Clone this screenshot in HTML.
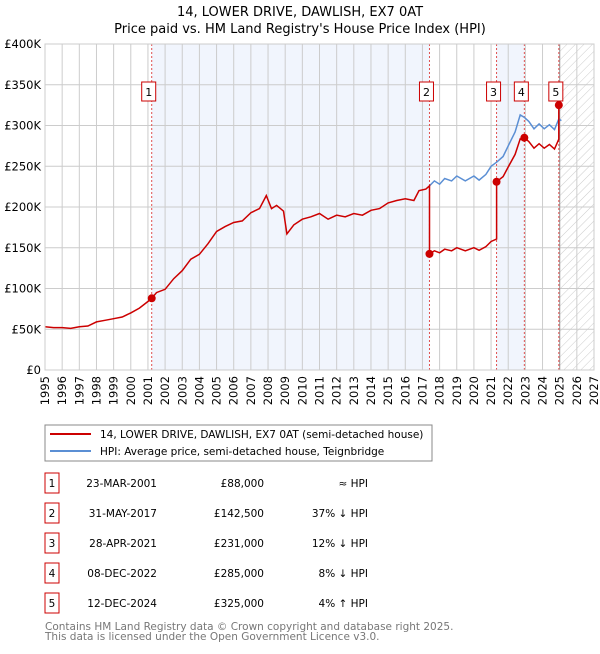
<!DOCTYPE html>
<html><head><meta charset="utf-8"><style>
body{margin:0;background:#fff;font-family:"DejaVu Sans","Liberation Sans",sans-serif;}
svg text{font-family:"DejaVu Sans","Liberation Sans",sans-serif;}
</style></head><body>
<svg id="c" width="600" height="650" viewBox="0 0 600 650">
<defs><pattern id="hatch" width="6" height="6" patternUnits="userSpaceOnUse" patternTransform="rotate(45)"><line x1="0" y1="0" x2="0" y2="6" stroke="#ccc" stroke-width="1"/></pattern></defs>
<text x="300" y="16" text-anchor="middle" font-size="13">14, LOWER DRIVE, DAWLISH, EX7 0AT</text>
<text x="300" y="33" text-anchor="middle" font-size="13">Price paid vs. HM Land Registry's House Price Index (HPI)</text>
<g id="plot"></g>
<rect x="45" y="425" width="387" height="36" fill="#fff" stroke="#888"/>
<line x1="50" y1="434" x2="91" y2="434" stroke="#cc0000" stroke-width="2"/>
<text x="100" y="438" font-size="10.5">14, LOWER DRIVE, DAWLISH, EX7 0AT (semi-detached house)</text>
<line x1="50" y1="451" x2="91" y2="451" stroke="#5b8fd4" stroke-width="2"/>
<text x="100" y="455" font-size="10.5">HPI: Average price, semi-detached house, Teignbridge</text>
<g id="table"></g>
<text x="45" y="630" font-size="10.5" fill="#777">Contains HM Land Registry data © Crown copyright and database right 2025.</text>
<text x="45" y="640" font-size="10.5" fill="#777">This data is licensed under the Open Government Licence v3.0.</text>
</svg>
<script>
const hpiYears=[1995,1995.5,1996,1996.5,1997,1997.5,1998,1998.5,1999,1999.5,2000,2000.5,2001,2001.22,2001.5,2002,2002.5,2003,2003.5,2004,2004.5,2005,2005.5,2006,2006.5,2007,2007.5,2007.9,2008.2,2008.5,2008.9,2009.1,2009.5,2010,2010.5,2011,2011.5,2012,2012.5,2013,2013.5,2014,2014.5,2015,2015.5,2016,2016.5,2016.8,2017.2,2017.41,2017.7,2018,2018.3,2018.7,2019,2019.5,2020,2020.3,2020.7,2021,2021.32,2021.7,2022,2022.4,2022.7,2022.94,2023.2,2023.5,2023.8,2024.1,2024.4,2024.7,2024.95,2025.1];
const hpiValues=[53,52,52,51,53,54,59,61,63,65,70,76,84,88,95,99,112,122,136,142,155,170,176,181,183,193,198,214,198,202,195,167,178,185,188,192,185,190,188,192,190,196,198,205,208,210,208,220,222,226,232,228,235,232,238,232,238,233,240,250,255,262,275,292,313,310,305,296,302,296,301,295,308,306];
const saleDates=[2001.22,2017.41,2021.32,2022.94,2024.95];
const salePrices=[88000,142500,231000,285000,325000];
const saleLabels=["23-MAR-2001","31-MAY-2017","28-APR-2021","08-DEC-2022","12-DEC-2024"];
const saleHpiText=["≈ HPI","37% ↓ HPI","12% ↓ HPI","8% ↓ HPI","4% ↑ HPI"];
const yTicks=[0,50,100,150,200,250,300,350,400];
const yTickLabels=["£0","£50K","£100K","£150K","£200K","£250K","£300K","£350K","£400K"];
const xTicks=[1995,1996,1997,1998,1999,2000,2001,2002,2003,2004,2005,2006,2007,2008,2009,2010,2011,2012,2013,2014,2015,2016,2017,2018,2019,2020,2021,2022,2023,2024,2025,2026,2027];

const NS="http://www.w3.org/2000/svg";
const X0=45,X1=594,Y0=370,Y1=44;
const xs=t=>X0+(t-1995)/(2027-1995)*(X1-X0);
const ys=v=>Y0-v/400*(Y0-Y1);
function mk(tag,at,parent){const e=document.createElementNS(NS,tag);for(const k in at)e.setAttribute(k,at[k]);parent.appendChild(e);return e;}
const P=document.getElementById('plot');
function hpiAt(t){for(let i=1;i<hpiYears.length;i++){if(t<=hpiYears[i]){const a=hpiYears[i-1],b=hpiYears[i];return hpiValues[i-1]+(hpiValues[i]-hpiValues[i-1])*(t-a)/(b-a);}}return hpiValues[hpiValues.length-1];}
[[0,1],[2,3]].forEach((p,i)=>{const r=mk('rect',{x:xs(saleDates[p[0]]),y:Y1,width:xs(saleDates[p[1]])-xs(saleDates[p[0]]),height:Y0-Y1,fill:'#eef3fc',opacity:0.8},P);

});
const hr=mk('rect',{x:xs(2025),y:Y1,width:X1-xs(2025),height:Y0-Y1,fill:'url(#hatch)'},P);


xTicks.forEach((t,i)=>{const l=mk('line',{x1:xs(t),y1:Y1,x2:xs(t),y2:Y0,stroke:'#ccc','stroke-width':1},P);


const tx=mk('text',{x:0,y:0,'font-size':11.5,'text-anchor':'end',transform:`translate(${xs(t)+4},${Y0+6}) rotate(-90)`},P);tx.textContent=t;

});
yTicks.forEach((v,i)=>{const l=mk('line',{x1:X0,y1:ys(v),x2:X1,y2:ys(v),stroke:'#ccc','stroke-width':1},P);


const tx=mk('text',{x:X0-4,y:ys(v)+4,'font-size':11.5,'text-anchor':'end'},P);tx.textContent=yTickLabels[i];

});
const nl=mk('line',{x1:xs(2025),y1:Y1,x2:xs(2025),y2:Y0,stroke:'#999','stroke-width':1},P);


saleDates.forEach((d,i)=>{const l=mk('line',{x1:xs(d),y1:Y1,x2:xs(d),y2:Y0,stroke:'#e05050','stroke-width':1,'stroke-dasharray':'2,2'},P);

});
let bp='';hpiYears.forEach((t,i)=>{if(t>=saleDates[1])bp+=(bp?'L':'M')+xs(t).toFixed(1)+','+ys(hpiValues[i]).toFixed(1);});
const bl=mk('path',{d:bp,fill:'none',stroke:'#5b8fd4','stroke-width':1.5},P);


let rp='';
for(let s=0;s<saleDates.length;s++){
 const f=salePrices[s]/1000/hpiAt(saleDates[s]);
 const start=s==0?1995:saleDates[s], end=s+1<saleDates.length?saleDates[s+1]:2025.1;
 const pts=[start].concat(hpiYears.filter(t=>t>start&&t<end)).concat([end]);
 pts.forEach((t,j)=>{rp+=((rp===''&&j==0)?'M':'L')+xs(t).toFixed(1)+','+ys(hpiAt(t)*f).toFixed(1);});
}
const rl=mk('path',{d:rp,fill:'none',stroke:'#cc0000','stroke-width':1.5},P);


saleDates.forEach((d,i)=>{const c=mk('circle',{cx:xs(d),cy:ys(salePrices[i]/1000),r:4,fill:'#cc0000'},P);


const b=mk('rect',{x:xs(d)-10,y:82,width:14,height:19,fill:'#fff',stroke:'#cc0000'},P);


const t=mk('text',{x:xs(d)-3,y:96,'font-size':11,'text-anchor':'middle'},P);t.textContent=i+1;

});
const ax=mk('rect',{x:X0,y:Y1,width:X1-X0,height:Y0-Y1,fill:'none',stroke:'#ccc'},P);


const T=document.getElementById('table');
saleDates.forEach((d,i)=>{const y=483+i*30;
const b=mk('rect',{x:45,y:y-10,width:14,height:20,fill:'#fff',stroke:'#cc0000'},T);


const n=mk('text',{x:52,y:y+4,'font-size':10.5,'text-anchor':'middle'},T);n.textContent=i+1;


const a=mk('text',{x:157,y:y+4,'font-size':10.5,'text-anchor':'end'},T);a.textContent=saleLabels[i];


const p=mk('text',{x:264,y:y+4,'font-size':10.5,'text-anchor':'end'},T);p.textContent='£'+salePrices[i].toLocaleString('en-GB');


const h=mk('text',{x:368,y:y+4,'font-size':10.5,'text-anchor':'end'},T);h.textContent=saleHpiText[i];

});
</script>
</body></html>
